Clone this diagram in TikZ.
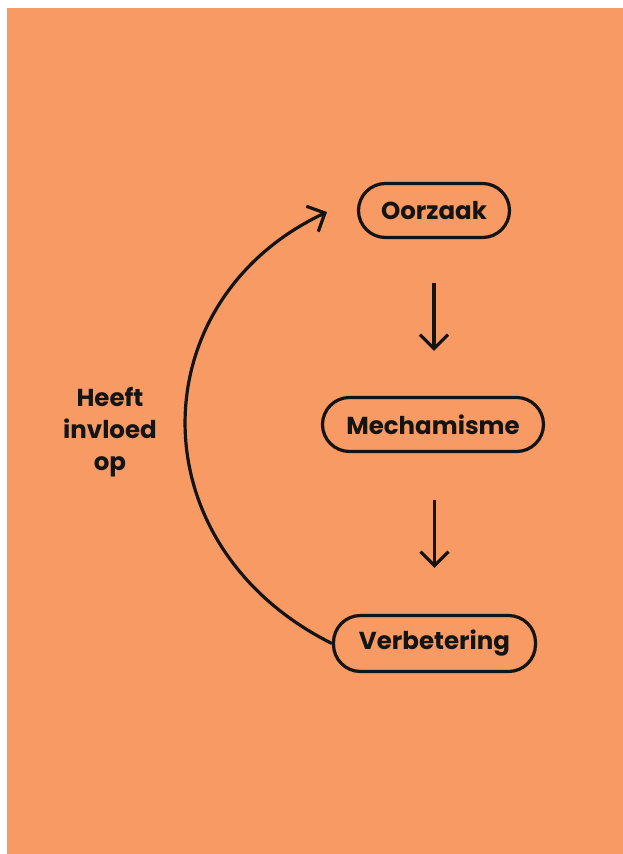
\documentclass[tikz,border=0pt]{standalone}
\usepackage{fontspec}
\setmainfont{Poppins}
\usetikzlibrary{arrows.meta}
\definecolor{bgorange}{HTML}{F79A63}
\definecolor{ink}{HTML}{141414}
\begin{document}
\begin{tikzpicture}[x=1pt,y=-1pt,
  box/.style={draw=ink, line width=3.2pt, rounded corners=27pt, minimum height=54pt, inner sep=0pt, font=\fontsize{24.5}{28}\selectfont\bfseries, text=ink},
  flow/.style={draw=ink, line width=3.2pt, -{Straight Barb[length=14pt,width=28pt]}},
  lbl/.style={font=\fontsize{24.5}{32}\selectfont\bfseries, align=center, text=ink}]
\useasboundingbox (0,0) rectangle (623,854);
\fill[white] (0,0) rectangle (623,854);
\fill[bgorange] (7,8) rectangle (623,854);
\node[box, minimum width=151pt] (oor) at (434,210.5) {Oorzaak};
\node[box, minimum width=221pt] (mech) at (433,424.5) {Mechamisme};
\node[box, minimum width=202pt, minimum height=56pt] (verb) at (434.5,643.5) {Verbetering};
\coordinate (tip) at (327,212);
\draw[flow, shorten <=44pt, shorten >=45pt] (oor.south) -- (oor.south |- mech.north);
\draw[flow, shorten <=47pt, shorten >=46pt] (mech.south -| verb.north) -- (verb.north);
\draw[flow] (verb.west) .. controls (135,545) and (140,300) .. (tip);
\node[lbl] (label) at (110,432) {Heeft\\invloed\\op};
\end{tikzpicture}
\end{document}
